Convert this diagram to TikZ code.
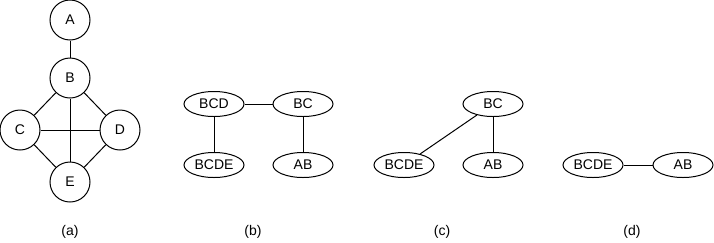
\documentclass[tikz,border=0pt]{standalone}
\usepackage{fontspec}
\setmainfont{Liberation Sans}
\usetikzlibrary{shapes.geometric}
\begin{document}
\begin{tikzpicture}[x=1pt,y=-1pt,
  vert/.style={draw,circle,minimum size=40pt,inner sep=0pt,line width=1pt,font=\fontsize{14}{16}\selectfont},
  clq/.style={draw,ellipse,minimum width=60pt,minimum height=25pt,inner sep=0pt,line width=1pt,font=\fontsize{14}{16}\selectfont},
  edge/.style={line width=1pt},
  sublabel/.style={font=\fontsize{14}{16}\selectfont}]
\useasboundingbox (0,0) rectangle (714,242);
% (a)
\node[vert] (A) at (70,20) {A};
\node[vert] (B) at (70,78) {B};
\node[vert] (C) at (20,130) {C};
\node[vert] (D) at (120,130) {D};
\node[vert] (E) at (70,182) {E};
\draw[edge] (A) -- (B);
\draw[edge] (B) -- (C);
\draw[edge] (B) -- (D);
\draw[edge] (B) -- (E);
\draw[edge] (C) -- (D);
\draw[edge] (C) -- (E);
\draw[edge] (D) -- (E);
\node[sublabel] (la) at (70,232) {(a)};
% (b)
\node[clq] (b1) at (214,104) {BCD};
\node[clq] (b2) at (303,104) {BC};
\node[clq] (b3) at (214,165) {BCDE};
\node[clq] (b4) at (303,165) {AB};
\draw[edge] (b1) -- (b2);
\draw[edge] (b1) -- (b3);
\draw[edge] (b2) -- (b4);
\node[sublabel] (lb) at (253,232) {(b)};
% (c)
\node[clq] (c1) at (493,104) {BC};
\node[clq] (c2) at (404,165) {BCDE};
\node[clq] (c3) at (493,165) {AB};
\draw[edge] (c1) -- (c2);
\draw[edge] (c1) -- (c3);
\node[sublabel] (lc) at (442,232) {(c)};
% (d)
\node[clq] (d1) at (593,165) {BCDE};
\node[clq] (d2) at (683,165) {AB};
\draw[edge] (d1) -- (d2);
\node[sublabel] (ld) at (632,232) {(d)};
\end{tikzpicture}
\end{document}
